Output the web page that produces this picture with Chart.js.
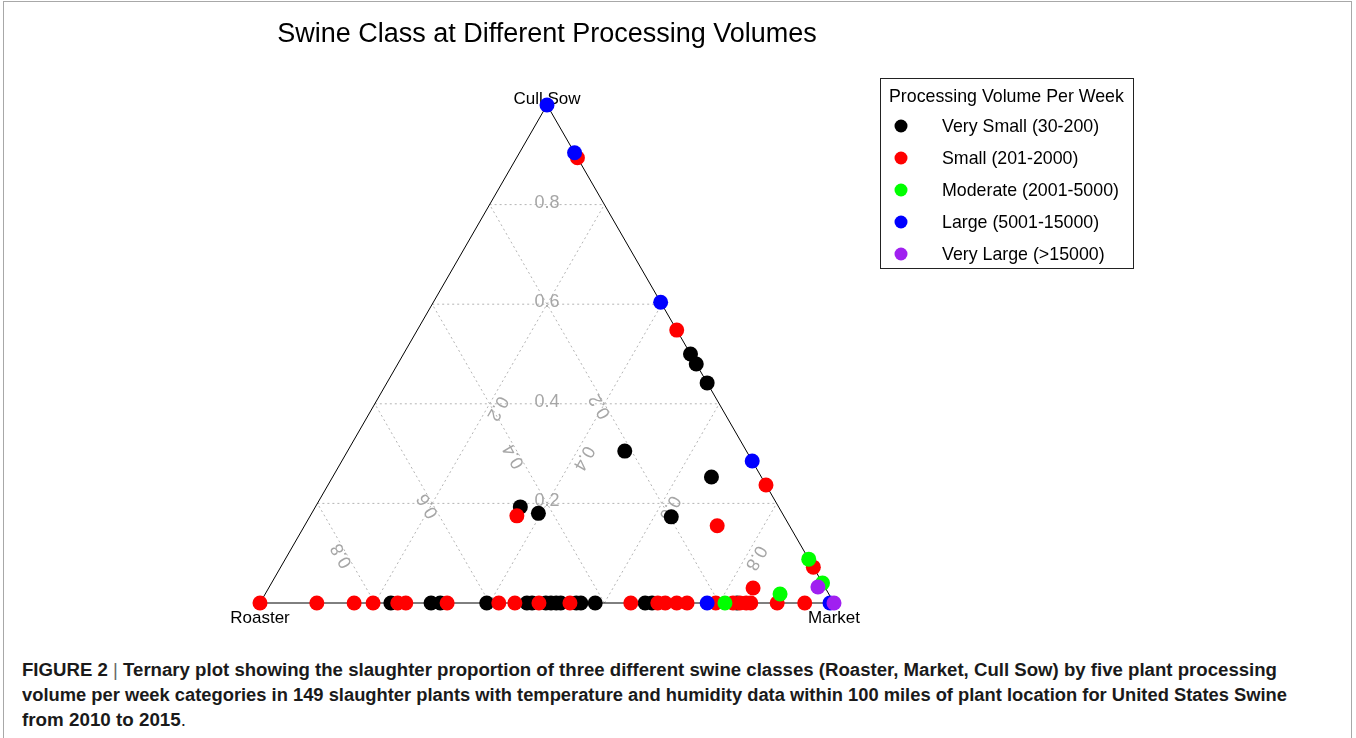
<!DOCTYPE html>
<html>
<head>
<meta charset="utf-8">
<script src="https://cdn.jsdelivr.net/npm/chart.js@4.4.1/dist/chart.umd.min.js"></script>
<style>
  html, body { margin: 0; padding: 0; background: #fff; }
  body { width: 1356px; height: 738px; position: relative; overflow: hidden; }
  #frame { position: absolute; left: 3px; top: 1px; width: 1349px; height: 800px; border: 1px solid #a8a8a8; box-sizing: border-box; }
  #chart { position: absolute; left: 0; top: 0; }
  .cap { position: absolute; left: 22px; white-space: nowrap; font: bold 18px "Liberation Sans", Arial, sans-serif;
         color: #1a1a1a; line-height: 20px; transform-origin: 0 50%; }
  .cap .sep { font-weight: normal; color: #666; }
  .cap .plain { font-weight: normal; }
</style>
</head>
<body>
<div id="frame"></div>
<canvas id="chart" width="1356" height="640"></canvas>
<div class="cap" id="cap1" data-w="1255" style="top:660px">FIGURE 2 <span class="sep">|</span> Ternary plot showing the slaughter proportion of three different swine classes (Roaster, Market, Cull Sow) by five plant processing</div>
<div class="cap" id="cap2" data-w="1265" style="top:685px">volume per week categories in 149 slaughter plants with temperature and humidity data within 100 miles of plant location for United States Swine</div>
<div class="cap" id="cap3" data-w="164" style="top:710px">from 2010 to 2015<span class="plain">.</span></div>

<script>
// ==========================================
// DATA  (each point = [roaster, market, cull sow] proportion)
// ==========================================
const chartTitle = 'Swine Class at Different Processing Volumes';
const legendTitle = 'Processing Volume Per Week';
const categories = ['Very Small (30-200)', 'Small (201-2000)', 'Moderate (2001-5000)', 'Large (5001-15000)', 'Very Large (>15000)'];
const colors = ['#000000', '#ff0000', '#00ff00', '#0000ff', '#a020f0'];
const vertexLabels = ['Roaster', 'Market', 'Cull Sow'];
const gridTicks = [0.2, 0.4, 0.6, 0.8];
const tickLabels = ['0.2', '0.4', '0.6', '0.8'];

const verySmall = [
    [0, 0.5, 0.5], [0, 0.52, 0.48], [0, 0.558, 0.442], [0.212, 0.483, 0.305], [0.087, 0.66, 0.253],
    [0.197, 0.63, 0.173], [0.45, 0.357, 0.193], [0.425, 0.395, 0.18],
    [0.772, 0.228, 0], [0.702, 0.298, 0], [0.686, 0.314, 0], [0.605, 0.395, 0], [0.535, 0.465, 0],
    [0.526, 0.474, 0], [0.502, 0.498, 0], [0.493, 0.507, 0], [0.484, 0.516, 0], [0.476, 0.524, 0],
    [0.449, 0.551, 0], [0.441, 0.559, 0], [0.416, 0.584, 0], [0.329, 0.671, 0], [0.317, 0.683, 0],
    [0.169, 0.831, 0]
];
const small = [
    [0, 0.106, 0.894], [0, 0.452, 0.548], [0, 0.763, 0.237], [0, 0.928, 0.072], [0.126, 0.719, 0.155],
    [0.465, 0.36, 0.175], [0.126, 0.844, 0.03],
    [1, 0, 0], [0.901, 0.099, 0], [0.836, 0.164, 0], [0.803, 0.197, 0], [0.76, 0.24, 0], [0.746, 0.254, 0],
    [0.674, 0.326, 0], [0.584, 0.416, 0], [0.556, 0.444, 0], [0.514, 0.486, 0], [0.46, 0.54, 0],
    [0.354, 0.646, 0], [0.307, 0.693, 0], [0.294, 0.706, 0], [0.274, 0.726, 0], [0.256, 0.744, 0],
    [0.206, 0.794, 0], [0.176, 0.824, 0], [0.164, 0.836, 0], [0.153, 0.847, 0], [0.145, 0.855, 0],
    [0.099, 0.901, 0], [0.051, 0.949, 0]
];
const moderate = [[0, 0.912, 0.088], [0, 0.96, 0.04], [0.085, 0.897, 0.018], [0.19, 0.81, 0]];
const large = [[0, 0, 1], [0, 0.096, 0.904], [0, 0.396, 0.604], [0, 0.715, 0.285], [0.221, 0.779, 0], [0.007, 0.993, 0]];
const veryLarge = [[0.012, 0.956, 0.032], [0, 1, 0]];

const groups = [verySmall, small, moderate, large, veryLarge];

// ==========================================
// TERNARY -> CARTESIAN
// ==========================================
const H = Math.sqrt(3) / 2;
const toXY = (r, m, c) => ({ x: m + c / 2, y: c * H });
const FONT = '"Liberation Sans", Arial, sans-serif';

function pix(chart, p) {
    return [chart.scales.x.getPixelForValue(p.x), chart.scales.y.getPixelForValue(p.y)];
}

// grid, triangle, labels
const ternaryPlugin = {
    id: 'ternary',
    beforeDatasetsDraw(chart) {
        const ctx = chart.ctx;
        ctx.save();

        // dotted grid lines (label offset differs a bit per family, as in the original)
        ctx.strokeStyle = '#b4b4b4';
        ctx.lineWidth = 1;
        ctx.setLineDash([2, 3]);
        const lines = [];
        gridTicks.forEach((t, i) => {
            lines.push({ a: toXY(1 - t, 0, t), b: toXY(0, 1 - t, t), ang: 0, off: 2, lab: tickLabels[i] });
            lines.push({ a: toXY(t, 1 - t, 0), b: toXY(t, 0, 1 - t), ang: -120, off: 5, lab: tickLabels[i] });
            lines.push({ a: toXY(1 - t, t, 0), b: toXY(0, t, 1 - t), ang: 120, off: 9, lab: tickLabels[i] });
        });
        lines.forEach(l => {
            const [x1, y1] = pix(chart, l.a), [x2, y2] = pix(chart, l.b);
            ctx.beginPath(); ctx.moveTo(x1, y1); ctx.lineTo(x2, y2); ctx.stroke();
        });
        ctx.setLineDash([]);

        // tick labels at middle of each grid line
        ctx.fillStyle = '#a6a6a6';
        ctx.font = '18px ' + FONT;
        ctx.textAlign = 'center';
        ctx.textBaseline = 'middle';
        lines.forEach(l => {
            const [x1, y1] = pix(chart, l.a), [x2, y2] = pix(chart, l.b);
            const th = l.ang * Math.PI / 180;
            const mx = (x1 + x2) / 2 + l.off * Math.sin(th);
            const my = (y1 + y2) / 2 - l.off * Math.cos(th);
            ctx.save(); ctx.translate(mx, my); ctx.rotate(th); ctx.fillText(l.lab, 0, 0); ctx.restore();
        });

        // triangle
        const A = pix(chart, toXY(1, 0, 0)), B = pix(chart, toXY(0, 1, 0)), C = pix(chart, toXY(0, 0, 1));
        ctx.strokeStyle = '#000';
        ctx.beginPath(); ctx.moveTo(A[0], A[1]); ctx.lineTo(B[0], B[1]); ctx.lineTo(C[0], C[1]); ctx.closePath(); ctx.stroke();

        // vertex labels
        ctx.fillStyle = '#000';
        ctx.font = '17px ' + FONT;
        ctx.textBaseline = 'alphabetic';
        ctx.fillText(vertexLabels[0], A[0], A[1] + 20);
        ctx.fillText(vertexLabels[1], B[0], B[1] + 20);
        ctx.fillText(vertexLabels[2], C[0], C[1] - 1);
        ctx.restore();
    },
    afterDraw(chart) {
        const ctx = chart.ctx;
        ctx.save();
        // title
        ctx.fillStyle = '#000';
        ctx.font = '27px ' + FONT;
        ctx.textAlign = 'center';
        ctx.fillText(chartTitle, 547, 42);

        // legend box
        ctx.strokeStyle = '#222';
        ctx.lineWidth = 1;
        ctx.strokeRect(880.5, 78.5, 253, 190);
        ctx.font = '17.8px ' + FONT;
        ctx.textAlign = 'left';
        ctx.fillText(legendTitle, 889, 102);
        chart.data.datasets.forEach((ds, i) => {
            const y = 126 + i * 32;
            ctx.fillStyle = ds.backgroundColor;
            ctx.beginPath(); ctx.arc(901, y, 6.5, 0, Math.PI * 2); ctx.fill();
            ctx.fillStyle = '#000';
            ctx.fillText(ds.label, 942, y + 6);
        });
        ctx.restore();
    }
};

// ==========================================
// CHART
// ==========================================
new Chart(document.getElementById('chart'), {
    type: 'scatter',
    data: {
        datasets: groups.map((g, i) => ({
            label: categories[i],
            data: g.map(p => toXY(p[0], p[1], p[2])),
            backgroundColor: colors[i],
            borderWidth: 0,
            pointRadius: 7.5,
            pointHoverRadius: 7.5,
            clip: false,
            order: 5 - i
        }))
    },
    options: {
        responsive: false,
        animation: false,
        layout: { padding: { left: 260, right: 522, top: 105, bottom: 37 } },
        scales: {
            x: { type: 'linear', min: 0, max: 1, display: false },
            y: { type: 'linear', min: 0, max: H, display: false }
        },
        plugins: { legend: { display: false }, tooltip: { enabled: false } },
        events: []
    },
    plugins: [ternaryPlugin]
});

// squeeze caption lines to the reference widths (condensed face)
document.querySelectorAll('.cap').forEach(el => {
    const w = el.getBoundingClientRect().width;
    el.style.transform = 'scaleX(' + (parseFloat(el.dataset.w) / w) + ')';
});
</script>
</body>
</html>
